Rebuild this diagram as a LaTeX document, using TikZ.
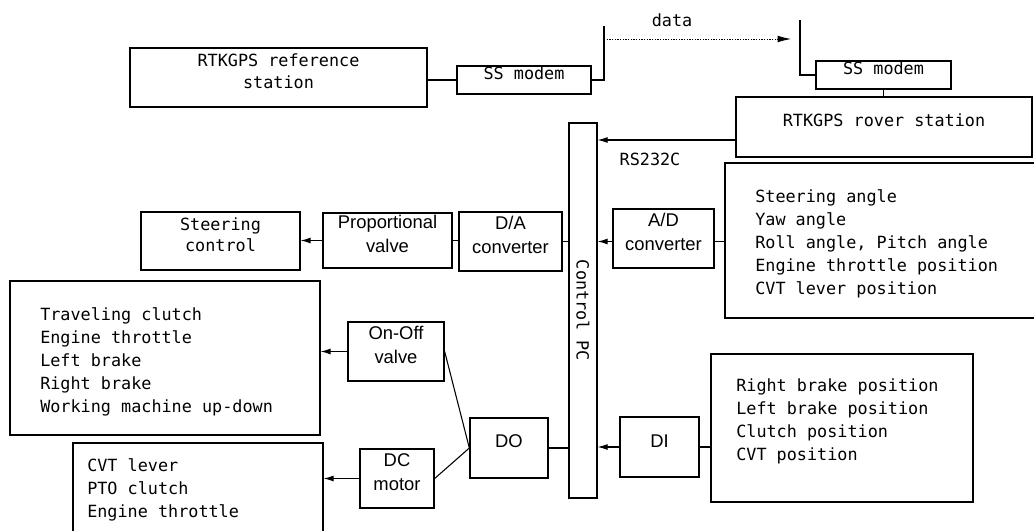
\documentclass[tikz,border=0pt]{standalone}
\usepackage{graphicx}
\usepackage{fontspec}
\setmainfont{Liberation Sans}
\newfontfamily\monofam{DejaVu Sans Mono}
\usetikzlibrary{fit,arrows.meta}
\tikzset{
  box/.style={draw, line width=1pt, inner sep=0pt},
  mtext/.style={font=\monofam\fontsize{12.6}{16}\selectfont, align=center},
  stext/.style={font=\fontsize{13.8}{18}\selectfont, align=center},
  listtext/.style={font=\monofam\fontsize{12.6}{17.3}\selectfont, align=left, anchor=west, inner sep=0pt},
  conn/.style={line width=0.8pt},
  arr/.style={line width=0.8pt, -{Latex[length=7.5pt,width=4.5pt]}},
  datarr/.style={line width=0.6pt, dash pattern=on 1pt off 1pt, -{Latex[length=10pt,width=5pt]}},
}
\begin{document}
\begin{tikzpicture}[x=0.75pt,y=-0.75pt]
\useasboundingbox (0,0) rectangle (1034,531);
% top row
\node[box,mtext,fit={(130,48) (427,107)}] (ref) {RTKGPS reference\\station};
\node[box,mtext,fit={(457,66) (591,94)}] (mL) {SS modem};
\node[box,mtext,fit={(816,61) (951,89)}] (mR) {SS modem};
\node[box,mtext,fit={(736,97) (1032,157)}] (rover) {RTKGPS rover station};
\coordinate (t1) at (604,26);
\coordinate (d1) at (604,39);
\coordinate (d2) at (791,39);
\coordinate (t2) at (800,20);
\coordinate (r1) at (736,140);
\node[mtext] (data) at (672,20) {data};
\node[mtext] (rs) at (650,159) {RS232C};
% control PC
\node[box,mtext,fit={(569,123) (597,498)}] (pc) {\rotatebox{-90}{Control PC}};
% middle row
\node[box,mtext,fit={(141,212) (300,270)}] (steer) {Steering\\control};
\node[box,stext,fit={(323,213) (452,268)}] (prop) {Proportional\\valve};
\node[box,stext,fit={(459,212) (562,271)}] (da) {D/A\\converter};
\node[box,stext,fit={(613,209) (714,268)}] (ad) {A/D\\converter};
\node[box,fit={(725,163) (1045,318)}] (sens1) {};
\node[listtext] (l1) at (755,244) {Steering angle\\Yaw angle\\Roll angle, Pitch angle\\Engine throttle position\\CVT lever position};
% lower part
\node[box,fit={(10,281) (320,435)}] (box1) {};
\node[listtext] (l2) at (40,362) {Traveling clutch\\Engine throttle\\Left brake\\Right brake\\Working machine up-down};
\node[box,fit={(73,443) (323,545)}] (box2) {};
\node[listtext] (l3) at (87,490) {CVT lever\\PTO clutch\\Engine throttle};
\node[box,stext,fit={(348,322) (444,381)}] (onoff) {On-Off\\valve};
\node[box,stext,fit={(360,449) (434,508)}] (dcm) {DC\\motor};
\node[box,stext,fit={(470,418) (548,478)}] (do) {DO};
\node[box,stext,fit={(620,417) (699,477)}] (di) {DI};
\node[box,fit={(711,354) (973,502)}] (sens2) {};
\node[listtext] (l4) at (736,421) {Right brake position\\Left brake position\\Clutch position\\CVT position};
% connectors
\draw[line width=1.6pt] (ref.east |- mL.west) -- (mL.west);
\draw[conn] (mL.east) -| (t1);
\draw[datarr] (d1) -- (d2);
\draw[conn] (t2) |- (mR.west);
\draw[conn] (mR.south) -- (mR.south |- rover.north);
\draw[arr] (r1) -- (pc.east |- r1);
\draw[arr] (prop.west) -- (steer.east |- prop.west);
\draw[conn] (prop.east) -- (da.west |- prop.east);
\draw[conn] (da.east) -- (pc.west |- da.east);
\draw[arr] (ad.west |- da.east) -- (pc.east |- da.east);
\draw[conn] (ad.east |- da.east) -- (sens1.west |- da.east);
\draw[arr] (onoff.west) -- (box1.east |- onoff.west);
\draw[conn] (onoff.east) -- (do.west);
\draw[conn] (dcm.east) -- (do.west);
\draw[arr] (dcm.west) -- (box2.east |- dcm.west);
\draw[conn] (do.east) -- (pc.west |- do.east);
\draw[arr] (di.west) -- (pc.east |- di.west);
\draw[conn] (di.east) -- (sens2.west |- di.east);
\end{tikzpicture}
\end{document}
